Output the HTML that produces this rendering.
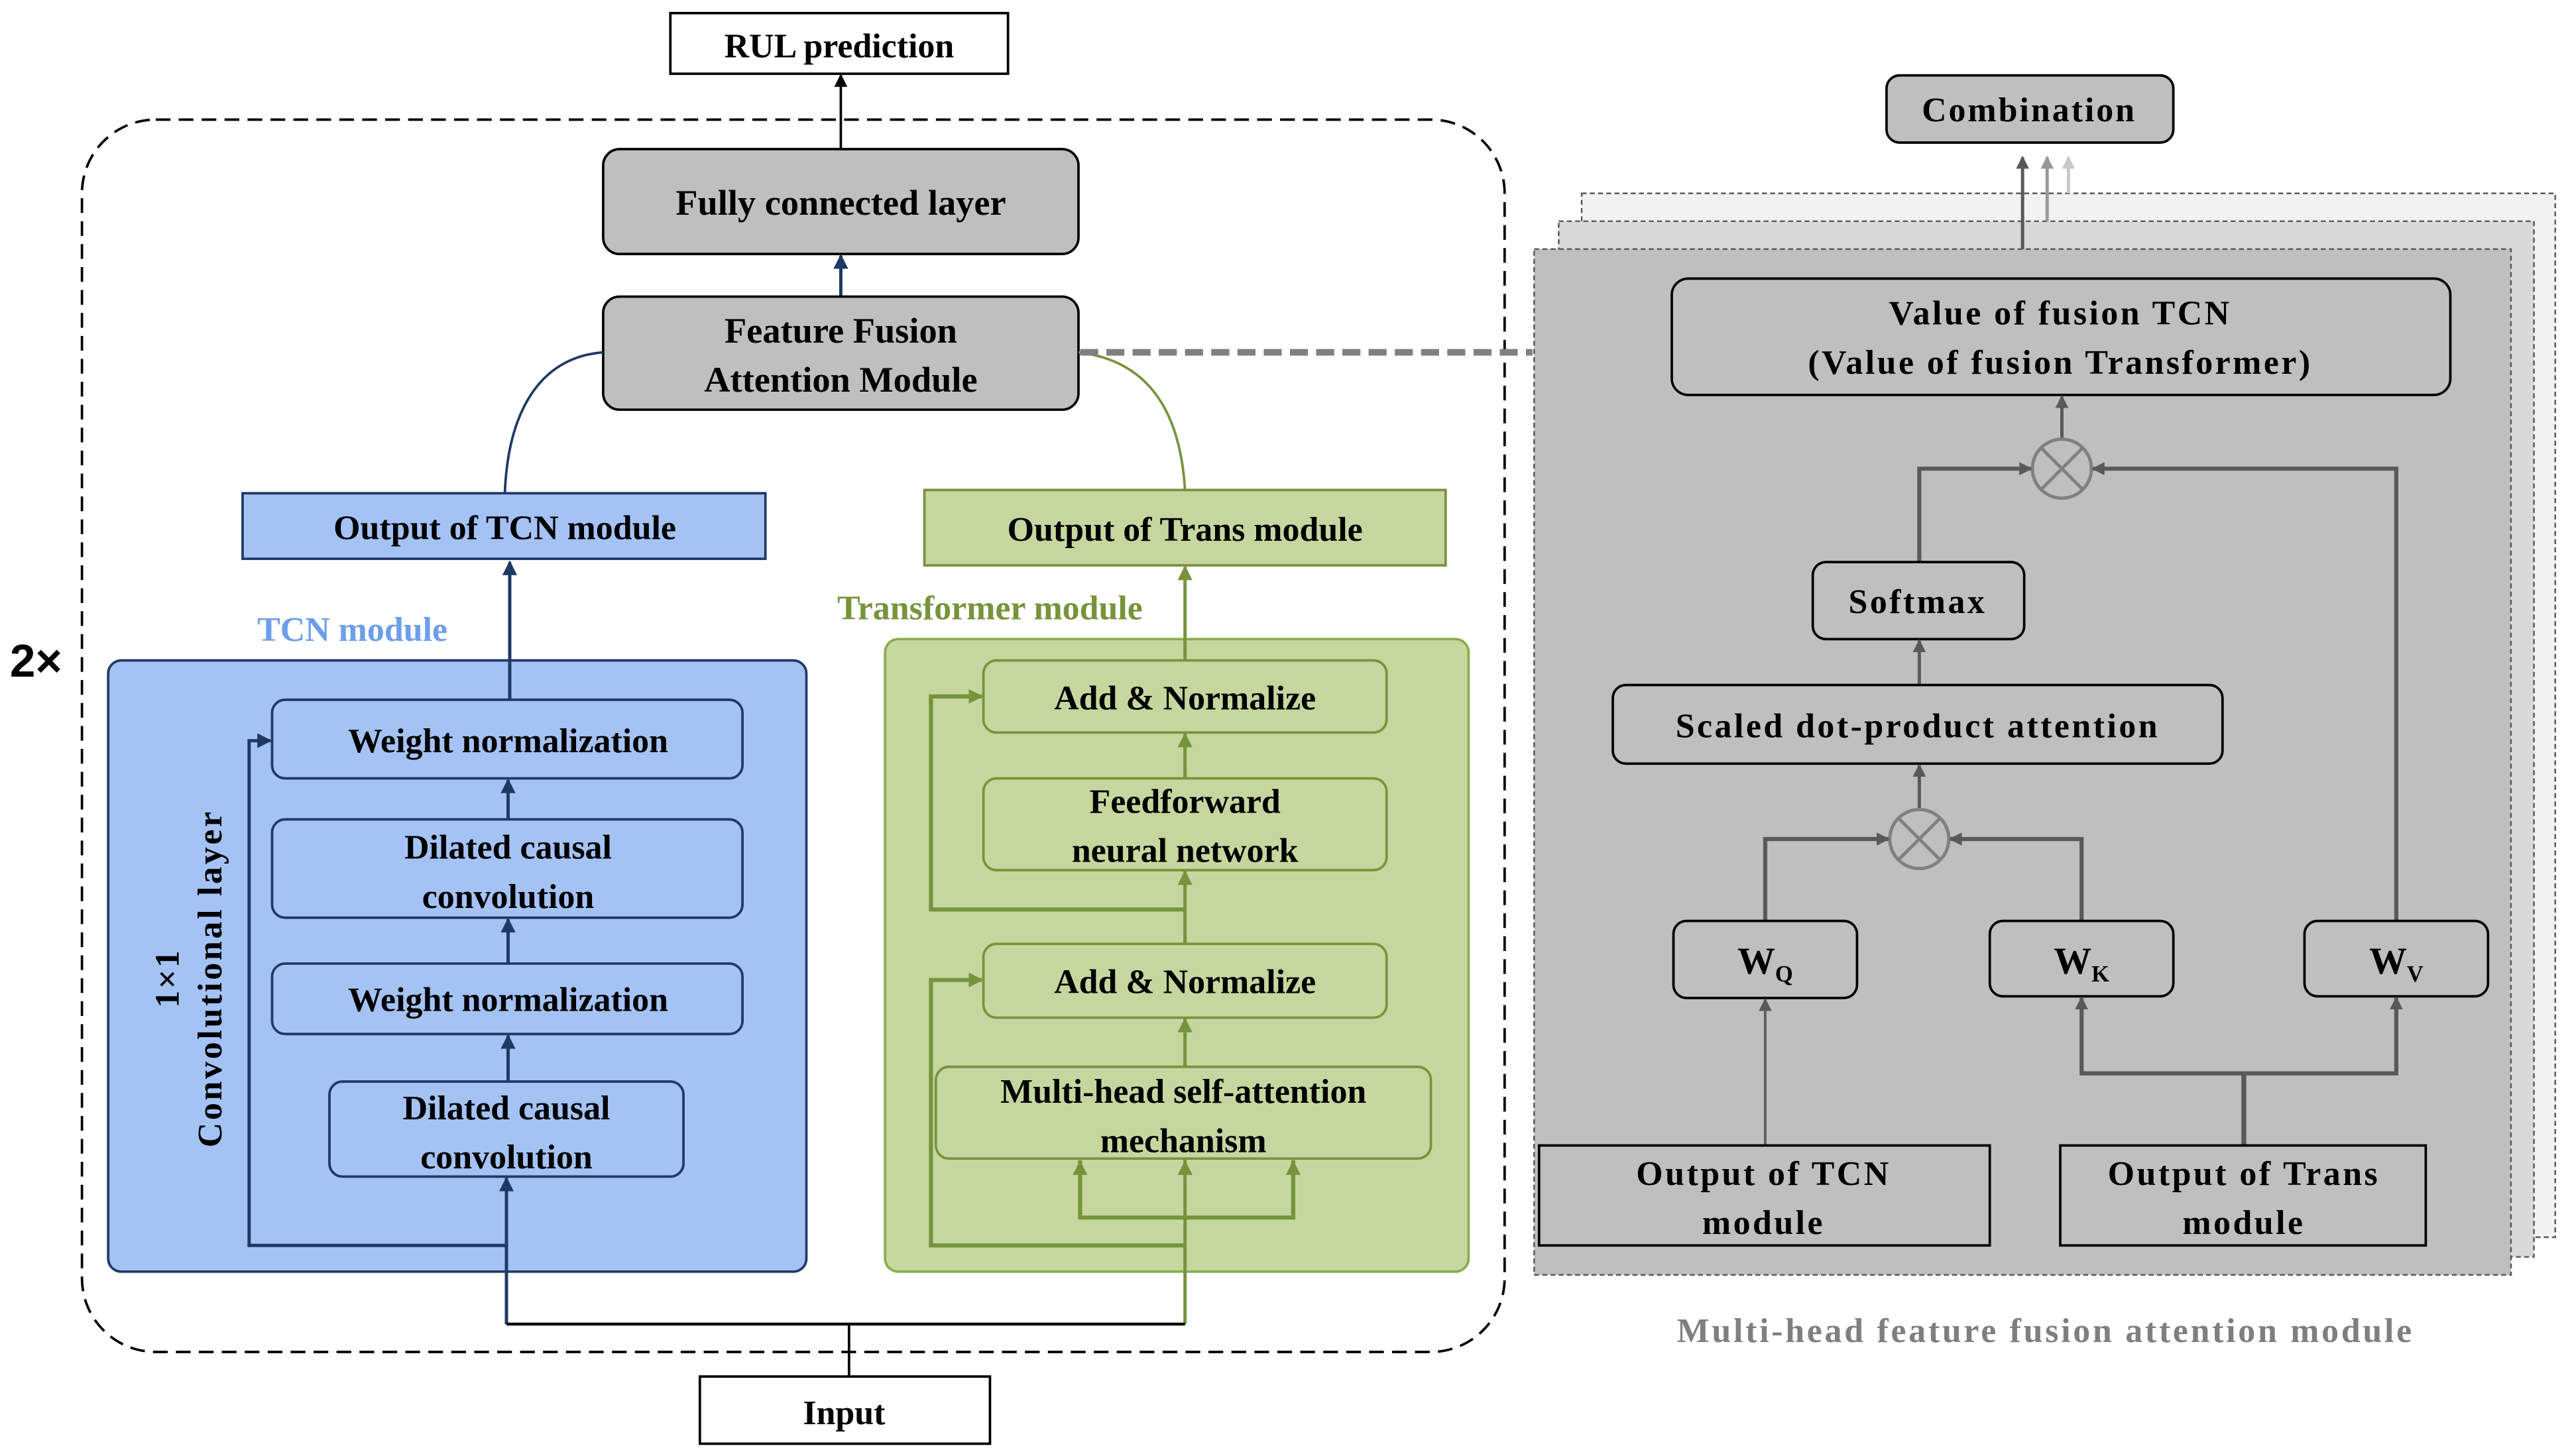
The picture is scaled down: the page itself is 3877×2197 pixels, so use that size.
<!DOCTYPE html>
<html><head><meta charset="utf-8"><style>
html,body{margin:0;padding:0;background:#fff;}
svg{display:block;}
text{font-family:"Liberation Serif",serif;font-weight:bold;}
</style></head><body>
<svg width="3877" height="2197" viewBox="0 0 1568 888.5" preserveAspectRatio="none" xmlns="http://www.w3.org/2000/svg">
<defs>
<marker id="ak" markerWidth="8" markerHeight="8" refX="7" refY="4" orient="auto" markerUnits="userSpaceOnUse"><path d="M0,0 L8,4 L0,8 z" fill="#000"/></marker>
<marker id="an" markerWidth="9" markerHeight="9" refX="8" refY="4.5" orient="auto" markerUnits="userSpaceOnUse"><path d="M0,0 L9,4.5 L0,9 z" fill="#1f3864"/></marker>
<marker id="ag" markerWidth="9" markerHeight="9" refX="8" refY="4.5" orient="auto" markerUnits="userSpaceOnUse"><path d="M0,0 L9,4.5 L0,9 z" fill="#77933c"/></marker>
<marker id="ad" markerWidth="8" markerHeight="8" refX="7" refY="4" orient="auto" markerUnits="userSpaceOnUse"><path d="M0,0 L8,4 L0,8 z" fill="#595959"/></marker>
<marker id="a2" markerWidth="8" markerHeight="8" refX="7" refY="4" orient="auto" markerUnits="userSpaceOnUse"><path d="M0,0 L8,4 L0,8 z" fill="#999"/></marker>
<marker id="a3" markerWidth="8" markerHeight="8" refX="7" refY="4" orient="auto" markerUnits="userSpaceOnUse"><path d="M0,0 L8,4 L0,8 z" fill="#c8c8c8"/></marker>
</defs>

<!-- LEFT -->
<rect x="409" y="8" width="206" height="37" fill="#fff" stroke="#000" stroke-width="1.5"/>
<text x="512" y="35" font-size="21" text-anchor="middle">RUL prediction</text>
<line x1="513" y1="91" x2="513" y2="46" stroke="#000" stroke-width="1.5" marker-end="url(#ak)"/>

<rect x="50" y="73" width="868" height="752" rx="45" fill="none" stroke="#000" stroke-width="1.5" stroke-dasharray="9,5"/>

<rect x="368" y="91" width="290" height="64" rx="10" fill="#bfbfbf" stroke="#000" stroke-width="1.5"/>
<text x="513" y="131" font-size="22" text-anchor="middle">Fully connected layer</text>
<line x1="513" y1="181" x2="513" y2="156" stroke="#1f3864" stroke-width="2" marker-end="url(#an)"/>

<rect x="368" y="181" width="290" height="69" rx="10" fill="#bfbfbf" stroke="#000" stroke-width="1.5"/>
<text x="513" y="209" font-size="22" text-anchor="middle">Feature Fusion</text>
<text x="513" y="239" font-size="22" text-anchor="middle">Attention Module</text>

<path d="M368,215 C330,218 310,250 308,301" fill="none" stroke="#1f3864" stroke-width="1.5"/>
<path d="M658,215 C700,220 720,250 723,299" fill="none" stroke="#77933c" stroke-width="1.5"/>
<line x1="659" y1="215" x2="935" y2="215" stroke="#808080" stroke-width="4" stroke-dasharray="11,5"/>

<rect x="148" y="301" width="319" height="40" fill="#a4c2f4" stroke="#1f3864" stroke-width="1.5"/>
<text x="308" y="329" font-size="21" text-anchor="middle">Output of TCN module</text>
<rect x="564" y="299" width="318" height="46" fill="#c5d79f" stroke="#77933c" stroke-width="1.5"/>
<text x="723" y="330" font-size="21" text-anchor="middle">Output of Trans module</text>

<text x="215" y="391" font-size="21" text-anchor="middle" fill="#6d9eeb">TCN module</text>
<text x="604" y="378" font-size="21" text-anchor="middle" fill="#77933c">Transformer  module</text>
<text x="6" y="413" font-size="28" fill="#000" style="font-family:'Liberation Sans',sans-serif;font-weight:bold">2×</text>

<!-- TCN -->
<rect x="66" y="403" width="426" height="373" rx="8" fill="#a4c2f4" stroke="#1f3864" stroke-width="1.5"/>
<line x1="311" y1="427" x2="311" y2="343" stroke="#1f3864" stroke-width="2" marker-end="url(#an)"/>
<rect x="166" y="427" width="287" height="48" rx="8" fill="#a4c2f4" stroke="#1f3864" stroke-width="1.5"/>
<text x="310" y="459" font-size="21" text-anchor="middle">Weight normalization</text>
<rect x="166" y="500" width="287" height="60" rx="8" fill="#a4c2f4" stroke="#1f3864" stroke-width="1.5"/>
<text x="310" y="524" font-size="21" text-anchor="middle">Dilated causal</text>
<text x="310" y="554" font-size="21" text-anchor="middle">convolution</text>
<rect x="166" y="588" width="287" height="43" rx="8" fill="#a4c2f4" stroke="#1f3864" stroke-width="1.5"/>
<text x="310" y="617" font-size="21" text-anchor="middle">Weight normalization</text>
<rect x="201" y="660" width="216" height="58" rx="8" fill="#a4c2f4" stroke="#1f3864" stroke-width="1.5"/>
<text x="309" y="683" font-size="21" text-anchor="middle">Dilated causal</text>
<text x="309" y="713" font-size="21" text-anchor="middle">convolution</text>
<line x1="310" y1="500" x2="310" y2="476" stroke="#1f3864" stroke-width="2" marker-end="url(#an)"/>
<line x1="310" y1="588" x2="310" y2="561" stroke="#1f3864" stroke-width="2" marker-end="url(#an)"/>
<line x1="310" y1="660" x2="310" y2="632" stroke="#1f3864" stroke-width="2" marker-end="url(#an)"/>
<line x1="309" y1="808" x2="309" y2="719" stroke="#1f3864" stroke-width="2" marker-end="url(#an)"/>
<polyline points="309,760 152,760 152,452 165,452" fill="none" stroke="#1f3864" stroke-width="2" marker-end="url(#an)"/>
<g transform="translate(115,597) rotate(-90)">
<text x="0" y="-6" font-size="21" text-anchor="middle" letter-spacing="1">1×1</text>
<text x="0" y="20" font-size="21" text-anchor="middle" letter-spacing="1.5">Convolutional layer</text>
</g>

<!-- Transformer -->
<rect x="540" y="390" width="356" height="386" rx="8" fill="#c5d79f" stroke="#8aac4b" stroke-width="1.5"/>
<line x1="723" y1="808" x2="723" y2="346" stroke="#77933c" stroke-width="2" marker-end="url(#ag)"/>
<rect x="600" y="403" width="246" height="44" rx="8" fill="#c5d79f" stroke="#77933c" stroke-width="1.5"/>
<text x="723" y="433" font-size="21" text-anchor="middle">Add  &amp;  Normalize</text>
<rect x="600" y="475" width="246" height="56" rx="8" fill="#c5d79f" stroke="#77933c" stroke-width="1.5"/>
<text x="723" y="496" font-size="21" text-anchor="middle">Feedforward</text>
<text x="723" y="526" font-size="21" text-anchor="middle">neural network</text>
<rect x="600" y="576" width="246" height="45" rx="8" fill="#c5d79f" stroke="#77933c" stroke-width="1.5"/>
<text x="723" y="606" font-size="21" text-anchor="middle">Add  &amp;  Normalize</text>
<rect x="571" y="651" width="302" height="56" rx="8" fill="#c5d79f" stroke="#77933c" stroke-width="1.5"/>
<text x="722" y="673" font-size="21" text-anchor="middle">Multi-head self-attention</text>
<text x="722" y="703" font-size="21" text-anchor="middle">mechanism</text>
<line x1="723" y1="475" x2="723" y2="448" stroke="#77933c" stroke-width="2" marker-end="url(#ag)"/>
<line x1="723" y1="576" x2="723" y2="532" stroke="#77933c" stroke-width="2" marker-end="url(#ag)"/>
<line x1="723" y1="651" x2="723" y2="622" stroke="#77933c" stroke-width="2" marker-end="url(#ag)"/>
<polyline points="723,555 568,555 568,425 599,425" fill="none" stroke="#77933c" stroke-width="2.5" marker-end="url(#ag)"/>
<polyline points="723,760 568,760 568,598 599,598" fill="none" stroke="#77933c" stroke-width="2.5" marker-end="url(#ag)"/>
<polyline points="659,708 659,743 789,743 789,708" fill="none" stroke="#77933c" stroke-width="2.5"/>
<line x1="659" y1="720" x2="659" y2="709" stroke="#77933c" stroke-width="2" marker-end="url(#ag)"/>
<line x1="723" y1="720" x2="723" y2="709" stroke="#77933c" stroke-width="2" marker-end="url(#ag)"/>
<line x1="789" y1="720" x2="789" y2="709" stroke="#77933c" stroke-width="2" marker-end="url(#ag)"/>

<polyline points="309,808 723,808" fill="none" stroke="#000" stroke-width="1.8"/>
<line x1="518" y1="808" x2="518" y2="840" stroke="#000" stroke-width="1.5"/>
<rect x="427" y="840" width="177" height="41" fill="#fff" stroke="#000" stroke-width="1.5"/>
<text x="515" y="869" font-size="21" text-anchor="middle">Input</text>

<!-- RIGHT -->
<rect x="1151" y="46" width="175" height="41" rx="8" fill="#bfbfbf" stroke="#000" stroke-width="1.5"/>
<text x="1238" y="74" font-size="21" text-anchor="middle" letter-spacing="1.2">Combination</text>
<rect x="965" y="118" width="594" height="637" fill="#f2f2f2" stroke="#595959" stroke-width="1" stroke-dasharray="3,2"/>
<rect x="951" y="135" width="595" height="632" fill="#d9d9d9" stroke="#595959" stroke-width="1" stroke-dasharray="3,2"/>
<rect x="936" y="152" width="596" height="626" fill="#bfbfbf" stroke="#595959" stroke-width="1" stroke-dasharray="3,2"/>
<line x1="1234" y1="152" x2="1234" y2="96" stroke="#595959" stroke-width="2" marker-end="url(#ad)"/>
<line x1="1249" y1="135" x2="1249" y2="96" stroke="#999" stroke-width="2" marker-end="url(#a2)"/>
<line x1="1262" y1="118" x2="1262" y2="96" stroke="#c8c8c8" stroke-width="2" marker-end="url(#a3)"/>

<rect x="1020" y="170" width="475" height="71" rx="10" fill="#bfbfbf" stroke="#000" stroke-width="1.5"/>
<text x="1257" y="198" font-size="21" text-anchor="middle" letter-spacing="1.4">Value  of  fusion  TCN</text>
<text x="1257" y="228" font-size="21" text-anchor="middle" letter-spacing="1.4">(Value  of  fusion  Transformer)</text>
<line x1="1258" y1="268" x2="1258" y2="242" stroke="#595959" stroke-width="2" marker-end="url(#ad)"/>
<circle cx="1258" cy="286" r="18" fill="#bfbfbf" stroke="#808080" stroke-width="2"/>
<path d="M1245,273 L1271,299 M1271,273 L1245,299" stroke="#808080" stroke-width="2"/>
<polyline points="1171,343 1171,286 1239,286" fill="none" stroke="#595959" stroke-width="2.5" marker-end="url(#ad)"/>
<polyline points="1462,562 1462,286 1277,286" fill="none" stroke="#595959" stroke-width="2.5" marker-end="url(#ad)"/>

<rect x="1106" y="343" width="129" height="47" rx="8" fill="#bfbfbf" stroke="#000" stroke-width="1.5"/>
<text x="1170" y="374" font-size="21" text-anchor="middle" letter-spacing="1.4">Softmax</text>
<line x1="1171" y1="418" x2="1171" y2="391" stroke="#595959" stroke-width="2" marker-end="url(#ad)"/>
<rect x="984" y="418" width="372" height="48" rx="8" fill="#bfbfbf" stroke="#000" stroke-width="1.5"/>
<text x="1170" y="450" font-size="21" text-anchor="middle" letter-spacing="1.4">Scaled  dot-product  attention</text>
<line x1="1171" y1="494" x2="1171" y2="467" stroke="#595959" stroke-width="2" marker-end="url(#ad)"/>
<circle cx="1171" cy="512" r="18" fill="#bfbfbf" stroke="#808080" stroke-width="2"/>
<path d="M1158,499 L1184,525 M1184,499 L1158,525" stroke="#808080" stroke-width="2"/>
<polyline points="1077,562 1077,512 1152,512" fill="none" stroke="#595959" stroke-width="2.5" marker-end="url(#ad)"/>
<polyline points="1270,562 1270,512 1190,512" fill="none" stroke="#595959" stroke-width="2.5" marker-end="url(#ad)"/>

<rect x="1021" y="562" width="112" height="47" rx="8" fill="#bfbfbf" stroke="#000" stroke-width="1.5"/>
<text x="1077" y="594" font-size="23" text-anchor="middle">W<tspan font-size="14" dy="5">Q</tspan></text>
<rect x="1214" y="562" width="112" height="46" rx="8" fill="#bfbfbf" stroke="#000" stroke-width="1.5"/>
<text x="1270" y="594" font-size="23" text-anchor="middle">W<tspan font-size="14" dy="5">K</tspan></text>
<rect x="1406" y="562" width="112" height="46" rx="8" fill="#bfbfbf" stroke="#000" stroke-width="1.5"/>
<text x="1462" y="594" font-size="23" text-anchor="middle">W<tspan font-size="14" dy="5">V</tspan></text>

<line x1="1077" y1="699" x2="1077" y2="610" stroke="#595959" stroke-width="1.5" marker-end="url(#ad)"/>
<line x1="1369" y1="699" x2="1369" y2="655" stroke="#595959" stroke-width="3"/>
<polyline points="1270,609 1270,655 1462,655 1462,609" fill="none" stroke="#595959" stroke-width="2.5"/>
<line x1="1270" y1="620" x2="1270" y2="609" stroke="#595959" stroke-width="2" marker-end="url(#ad)"/>
<line x1="1462" y1="620" x2="1462" y2="609" stroke="#595959" stroke-width="2" marker-end="url(#ad)"/>

<rect x="939" y="699" width="275" height="61" fill="#bfbfbf" stroke="#000" stroke-width="1.5"/>
<text x="1076" y="723" font-size="21" text-anchor="middle" letter-spacing="1.4">Output of TCN</text>
<text x="1076" y="753" font-size="21" text-anchor="middle" letter-spacing="1.4">module</text>
<rect x="1257" y="699" width="223" height="61" fill="#bfbfbf" stroke="#000" stroke-width="1.5"/>
<text x="1369" y="723" font-size="21" text-anchor="middle" letter-spacing="1.4">Output of Trans</text>
<text x="1369" y="753" font-size="21" text-anchor="middle" letter-spacing="1.4">module</text>

<text x="1248" y="819" font-size="21" text-anchor="middle" fill="#7f7f7f" letter-spacing="1.5">Multi-head  feature  fusion  attention  module</text>
</svg>
</body></html>
